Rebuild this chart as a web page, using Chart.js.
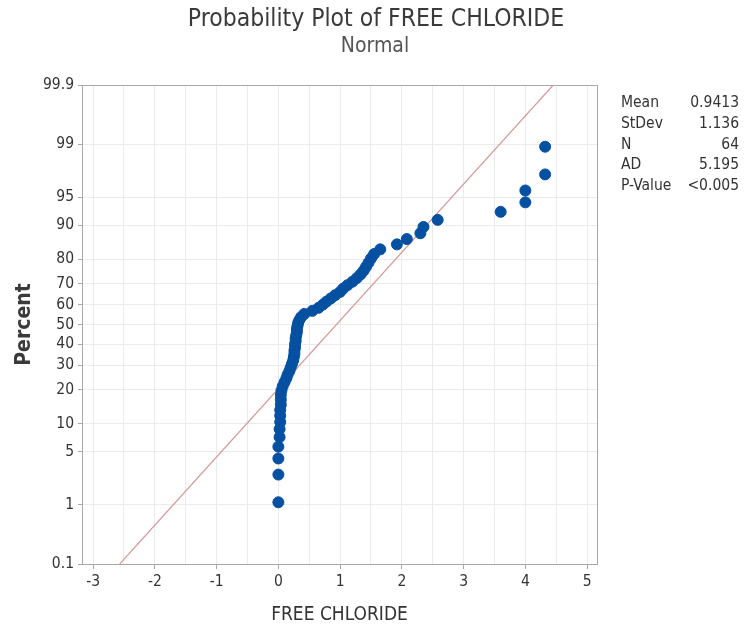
<!DOCTYPE html>
<html>
<head>
<meta charset="utf-8">
<script src="https://cdn.jsdelivr.net/npm/chart.js@4"></script>
<style>
  html, body { margin: 0; padding: 0; background: #fff; }
  #wrap { width: 755px; height: 628px; }
</style>
</head>
<body>
<div id="wrap"><canvas id="probChart" width="755" height="628"></canvas></div>
<script>
// FREE CHLORIDE values, sorted
const chlorideValues = [
    0.00, 0.00, 0.00, 0.00, 0.02, 0.02, 0.03, 0.03, 0.03, 0.04,
    0.04, 0.04, 0.05, 0.07, 0.10, 0.13, 0.15, 0.18, 0.20, 0.22,
    0.24, 0.25, 0.26, 0.26, 0.27, 0.27, 0.28, 0.28, 0.29, 0.30,
    0.30, 0.31, 0.32, 0.34, 0.37, 0.42, 0.55, 0.65, 0.72, 0.78,
    0.85, 0.92, 1.00, 1.05, 1.12, 1.20, 1.27, 1.33, 1.38, 1.42,
    1.46, 1.50, 1.55, 1.65, 1.92, 2.08, 2.30, 2.35, 2.58, 3.60,
    4.00, 4.00, 4.32, 4.32
];
// plotted percent for each point
const percentValues = [
    1.09, 2.64, 4.19, 5.75, 7.30, 8.85, 10.40, 11.96, 13.51, 15.06,
    16.61, 18.17, 19.72, 21.27, 22.83, 24.38, 25.93, 27.48, 29.04, 30.59,
    32.14, 33.70, 35.25, 36.80, 38.35, 39.91, 41.46, 43.01, 44.57, 46.12,
    47.67, 49.22, 50.78, 52.33, 53.88, 55.43, 56.99, 58.54, 60.09, 61.65,
    63.20, 64.75, 66.30, 67.86, 69.41, 70.96, 72.52, 74.07, 75.62, 77.17,
    78.73, 80.28, 81.83, 83.39, 84.94, 86.49, 88.04, 89.60, 91.15, 92.70,
    94.25, 95.81, 97.36, 98.91
];
const yTickPercents = [0.1, 1, 5, 10, 20, 30, 40, 50, 60, 70, 80, 90, 95, 99, 99.9];
const yTickLabels = ['0.1', '1', '5', '10', '20', '30', '40', '50', '60', '70', '80', '90', '95', '99', '99.9'];
const xTickValues = [-3, -2.5, -2, -1.5, -1, -0.5, 0, 0.5, 1, 1.5, 2, 2.5, 3, 3.5, 4, 4.5, 5];
const xMin = -3.18;
const xMax = 5.16;
const fitMean = 0.9413;
const fitStDev = 1.136;
const statLabels = ['Mean', 'StDev', 'N', 'AD', 'P-Value'];
const statValues = ['0.9413', '1.136', '64', '5.195', '<0.005'];

const FONT = "'DejaVu Sans Condensed', 'Liberation Sans Narrow', 'Open Sans', sans-serif";
const TEXT = '#333333';

// inverse normal cdf (Acklam)
function probit(p) {
    const a = [-39.69683028665376, 220.9460984245205, -275.9285104469687, 138.3577518672690, -30.66479806614716, 2.506628277459239];
    const b = [-54.47609879822406, 161.5858368580409, -155.6989798598866, 66.80131188771972, -13.28068155288572];
    const c = [-0.007784894002430293, -0.3223964580411365, -2.400758277161838, -2.549732539343734, 4.374664141464968, 2.938163982698783];
    const d = [0.007784695709041462, 0.3224671290700398, 2.445134137142996, 3.754408661907416];
    const pl = 0.02425;
    let q, r;
    if (p < pl) {
        q = Math.sqrt(-2 * Math.log(p));
        return (((((c[0]*q+c[1])*q+c[2])*q+c[3])*q+c[4])*q+c[5]) / ((((d[0]*q+d[1])*q+d[2])*q+d[3])*q+1);
    }
    if (p <= 1 - pl) {
        q = p - 0.5; r = q * q;
        return (((((a[0]*r+a[1])*r+a[2])*r+a[3])*r+a[4])*r+a[5])*q / (((((b[0]*r+b[1])*r+b[2])*r+b[3])*r+b[4])*r+1);
    }
    q = Math.sqrt(-2 * Math.log(1 - p));
    return -(((((c[0]*q+c[1])*q+c[2])*q+c[3])*q+c[4])*q+c[5]) / ((((d[0]*q+d[1])*q+d[2])*q+d[3])*q+1);
}

const zLow = probit(yTickPercents[0] / 100);
const zHigh = probit(yTickPercents[yTickPercents.length - 1] / 100);

const points = chlorideValues.map((v, i) => ({ x: v, y: probit(percentValues[i] / 100) }));
const fitLine = [
    { x: fitMean + fitStDev * zLow, y: zLow },
    { x: fitMean + fitStDev * zHigh, y: zHigh }
];

// titles, stats box and plot frame
const decorPlugin = {
    id: 'decor',
    beforeDatasetsDraw(chart) {
        const { ctx, chartArea: a } = chart;
        ctx.save();
        ctx.strokeStyle = '#a8a8a8';
        ctx.lineWidth = 1;
        ctx.strokeRect(a.left + 0.5, a.top + 0.5, a.right - a.left, a.bottom - a.top);
        ctx.restore();
    },
    afterDraw(chart) {
        const ctx = chart.ctx;
        ctx.save();
        ctx.fillStyle = '#3a3a3a';
        ctx.textAlign = 'center';
        ctx.textBaseline = 'middle';
        ctx.font = '24.5px ' + FONT;
        ctx.fillText('Probability Plot of FREE CHLORIDE', 376, 20);
        ctx.fillStyle = '#555';
        ctx.font = '21px ' + FONT;
        ctx.fillText('Normal', 375, 47);
        ctx.fillStyle = TEXT;
        ctx.font = '15.5px ' + FONT;
        statLabels.forEach((lab, i) => {
            const y = 103 + i * 20.8;
            ctx.textAlign = 'left';
            ctx.fillText(lab, 621, y);
            ctx.textAlign = 'right';
            ctx.fillText(statValues[i], 739, y);
        });
        ctx.restore();
    }
};

new Chart(document.getElementById('probChart').getContext('2d'), {
    type: 'scatter',
    data: {
        datasets: [{
            label: 'FREE CHLORIDE',
            data: points,
            backgroundColor: '#0550a0',
            borderColor: '#0550a0',
            pointRadius: 5.5,
            pointHoverRadius: 5.5,
        }, {
            label: 'Fit',
            type: 'line',
            data: fitLine,
            borderColor: '#d49a9a',
            borderWidth: 1.2,
            pointRadius: 0,
            fill: false,
        }]
    },
    options: {
        responsive: false,
        animation: false,
        layout: { padding: { top: 85, right: 158, left: 0, bottom: 0 } },
        plugins: {
            legend: { display: false },
            tooltip: { enabled: false },
        },
        scales: {
            x: {
                type: 'linear',
                min: xMin,
                max: xMax,
                afterFit: (s) => { s.height = 64; },
                afterBuildTicks: (s) => { s.ticks = xTickValues.map(v => ({ value: v })); },
                border: { display: false },
                grid: {
                    color: '#ebebeb',
                    tickLength: 5,
                    tickColor: (c) => (c.tick && Number.isInteger(c.tick.value)) ? '#a8a8a8' : 'rgba(0,0,0,0)',
                },
                ticks: {
                    autoSkip: false,
                    maxRotation: 0,
                    padding: 4,
                    color: TEXT,
                    font: { family: FONT, size: 15.5 },
                    callback: (v) => Number.isInteger(v) ? String(v) : '',
                },
                title: {
                    display: true,
                    text: 'FREE CHLORIDE',
                    color: TEXT,
                    font: { family: FONT, size: 19 },
                    padding: { top: 0, bottom: 2 },
                },
            },
            y: {
                type: 'linear',
                min: zLow,
                max: zHigh,
                afterFit: (s) => { s.width = 82; },
                afterBuildTicks: (s) => { s.ticks = yTickPercents.map(p => ({ value: probit(p / 100) })); },
                border: { display: false },
                grid: { color: '#ebebeb', tickLength: 4, tickColor: '#a8a8a8' },
                ticks: {
                    padding: 4,
                    color: TEXT,
                    font: { family: FONT, size: 15.5 },
                    callback: (v, i) => yTickLabels[i],
                },
                title: {
                    display: true,
                    text: 'Percent',
                    color: '#3a3a3a',
                    font: { family: FONT, size: 21, weight: 'bold' },
                    padding: { top: 12, bottom: 0 },
                },
            },
        },
    },
    plugins: [decorPlugin],
});
</script>
</body>
</html>
